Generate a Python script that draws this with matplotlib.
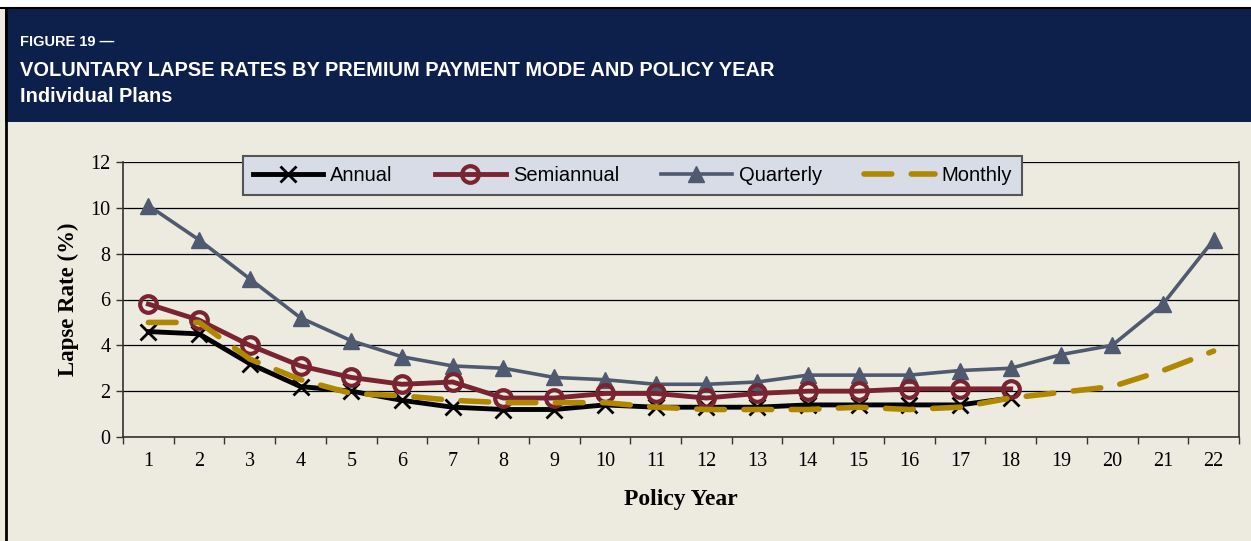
import numpy as np
import matplotlib
matplotlib.use('Agg')
import matplotlib.pyplot as plt
from matplotlib.patches import Rectangle
from matplotlib.lines import Line2D

# Data
years = list(range(1, 23))
annual = [4.6, 4.5, 3.2, 2.2, 2.0, 1.6, 1.3, 1.2, 1.2, 1.4, 1.3, 1.3, 1.3, 1.4, 1.4, 1.4, 1.4, 1.7]
semiannual = [5.8, 5.1, 4.0, 3.1, 2.6, 2.3, 2.4, 1.7, 1.7, 1.9, 1.9, 1.7, 1.9, 2.0, 2.0, 2.1, 2.1, 2.1]
quarterly = [10.1, 8.6, 6.9, 5.2, 4.2, 3.5, 3.1, 3.0, 2.6, 2.5, 2.3, 2.3, 2.4, 2.7, 2.7, 2.7, 2.9, 3.0,
             3.6, 4.0, 5.8, 8.6]
monthly = [5.0, 5.0, 3.4, 2.5, 1.9, 1.8, 1.6, 1.5, 1.5, 1.5, 1.3, 1.2, 1.2, 1.2, 1.3, 1.2, 1.3, 1.7,
           1.95, 2.2, 2.9, 3.75]

bg = '#EDEBE0'
navy = '#0D1F4B'
c_annual = '#000000'
c_semi = '#7A2432'
c_quart = '#4F5A70'
c_month = '#B08800'

narrow = ['Liberation Sans Narrow', 'Liberation Sans', 'DejaVu Sans']
serif = ['Liberation Serif', 'DejaVu Serif']

W, H = 1251, 541
fig = plt.figure(figsize=(W / 100, H / 100), dpi=100)
fig.patch.set_facecolor(bg)

# Header band and page borders (figure pixel coords, origin top-left)
def px(x, y):
    return x / W, 1 - y / H

fig.patches.append(Rectangle((0, 1 - 8 / H), 1, 8 / H, transform=fig.transFigure,
                             facecolor='white', edgecolor='none', zorder=0))
fig.patches.append(Rectangle((5 / W, 1 - 122 / H), 1, 114 / H, transform=fig.transFigure,
                             facecolor=navy, edgecolor='none', zorder=1))
fig.lines.append(Line2D([0, 1], [1 - 7.5 / H, 1 - 7.5 / H], transform=fig.transFigure,
                        color='black', linewidth=1.5, zorder=2))
fig.lines.append(Line2D([6 / W, 6 / W], [0, 1 - 7.5 / H], transform=fig.transFigure,
                        color='black', linewidth=2, zorder=2))

fig.text(*px(20, 42), 'FIGURE 19 —', color='white', fontsize=10.5, fontweight='bold',
         family=narrow, va='center', ha='left')
fig.text(*px(20, 71), 'VOLUNTARY LAPSE RATES BY PREMIUM PAYMENT MODE AND POLICY YEAR', color='white',
         fontsize=14.4, fontweight='bold', family=narrow, va='center', ha='left')
fig.text(*px(20, 97), 'Individual Plans', color='white', fontsize=14.4, fontweight='bold',
         family=narrow, va='center', ha='left')

ax = fig.add_axes([123 / W, 104 / H, (1239 - 123) / W, (437 - 162) / H])
ax.set_facecolor(bg)

ax.plot(years[:len(annual)], annual, color=c_annual, linewidth=3.5, marker='x', markersize=12,
        markeredgewidth=2, label='Annual', zorder=4)
ax.plot(years[:len(semiannual)], semiannual, color=c_semi, linewidth=3.5, marker='o', markersize=12,
        markerfacecolor='none', markeredgewidth=3, label='Semiannual', zorder=5)
ax.plot(years, quarterly, color=c_quart, linewidth=2.6, marker='^', markersize=11,
        label='Quarterly', zorder=3)
ax.plot(years, monthly, color=c_month, linewidth=4, linestyle=(0, (5, 3.5)), dash_capstyle='round',
        label='Monthly', zorder=6)

ax.set_xlim(0.5, 22.5)
ax.set_ylim(0, 12)
ax.set_yticks(np.arange(0, 13, 2))
ax.set_xticks(years)
ax.set_xticks(np.arange(0.5, 23, 1), minor=True)
ax.tick_params(axis='x', which='major', length=0, pad=11, labelsize=14.5)
ax.tick_params(axis='x', which='minor', length=5, width=1, color='#333333')
ax.tick_params(axis='y', length=5, width=1, color='#333333', labelsize=14.5, pad=4)
for lbl in ax.get_xticklabels() + ax.get_yticklabels():
    lbl.set_family(serif)

ax.grid(axis='y', color='black', linewidth=0.9)
ax.set_axisbelow(True)
for s in ['left', 'bottom', 'right']:
    ax.spines[s].set_color('#333333')
    ax.spines[s].set_linewidth(1.2)
ax.spines['top'].set_visible(False)

ax.set_xlabel('Policy Year', family=serif, fontweight='bold', fontsize=17, labelpad=13)
ax.set_ylabel('Lapse Rate (%)', family=serif, fontweight='bold', fontsize=16.5, labelpad=8)

leg = fig.legend(loc='center', bbox_to_anchor=((242 + 1023) / 2 / W, 1 - 175.5 / H), ncol=4,
                 frameon=True, fancybox=False, facecolor='#D7DCE7', edgecolor='#555555',
                 prop={'family': narrow, 'size': 14.5}, handlelength=3.5, columnspacing=2.1,
                 borderpad=0.5, handletextpad=0.35)
leg.get_frame().set_linewidth(1.5)
leg.get_frame().set_alpha(1)
leg.set_zorder(10)

fig.savefig('out.png', dpi=100, facecolor=fig.get_facecolor())
